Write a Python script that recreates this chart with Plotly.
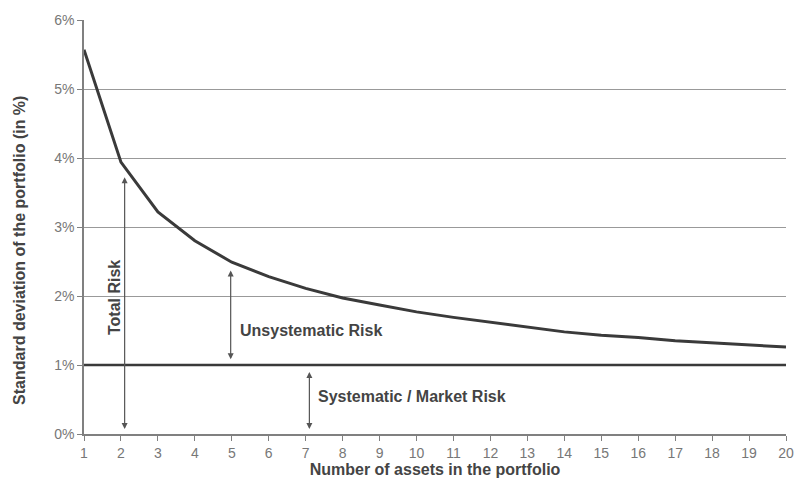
import plotly.graph_objects as go

assets = list(range(1, 21))
total_risk = [5.57, 3.94, 3.22, 2.80, 2.49, 2.28, 2.11, 1.97, 1.87, 1.77,
              1.69, 1.62, 1.55, 1.48, 1.43, 1.40, 1.35, 1.32, 1.29, 1.26]
market_risk = [1.0] * 20
y_ticks = [0, 1, 2, 3, 4, 5, 6]
y_tick_labels = ["0%", "1%", "2%", "3%", "4%", "5%", "6%"]

FONT = "Liberation Sans, Arial, sans-serif"

fig = go.Figure()
fig.add_trace(go.Scatter(x=assets, y=market_risk, mode="lines",
                         line=dict(color="#3a3a3a", width=2.5), showlegend=False))
fig.add_trace(go.Scatter(x=assets, y=total_risk, mode="lines",
                         line=dict(color="#3a3a3a", width=3), showlegend=False))

arrows = [
    (2.1, 3.72, 0.05),
    (4.97, 2.37, 1.06),
    (7.1, 0.9, 0.05),
]
for xa, ytop, ybot in arrows:
    fig.add_annotation(x=xa, y=ytop, ax=xa, ay=ybot, xref="x", yref="y",
                       axref="x", ayref="y", showarrow=True, arrowhead=2,
                       arrowside="end+start", arrowsize=1, arrowwidth=1.2,
                       arrowcolor="#555555", text="")

tfont = dict(family=FONT, size=16, color="#444444", weight="bold")
fig.add_annotation(x=1.83, y=1.98, xref="x", yref="y", text="Total Risk",
                   textangle=-90, showarrow=False, font=tfont)
fig.add_annotation(x=5.16, y=1.5, xref="x", yref="y", text="Unsystematic Risk",
                   showarrow=False, font=tfont, xanchor="left")
fig.add_annotation(x=7.27, y=0.55, xref="x", yref="y", text="Systematic / Market Risk",
                   showarrow=False, font=tfont, xanchor="left")

# y-axis title (placed as annotation to match the reference's offset position)
fig.add_annotation(x=-0.093, y=0.444, xref="paper", yref="paper",
                   xanchor="center", yanchor="middle",
                   text="Standard deviation of the portfolio (in %)", textangle=-90,
                   showarrow=False, font=dict(family=FONT, size=16, color="#444444", weight="bold"))

fig.update_layout(
    width=794, height=478,
    margin=dict(l=84, r=8, t=20, b=44),
    paper_bgcolor="white", plot_bgcolor="white",
    font=dict(family=FONT, color="#777777", size=14),
    xaxis=dict(range=[1, 20], tickmode="array", tickvals=assets,
               showgrid=False, showline=True, linecolor="#808080", linewidth=1.5,
               ticks="outside", ticklen=5, tickcolor="#808080", automargin=False,
               tickfont=dict(size=14, color="#777777"),
               title=dict(text="Number of assets in the portfolio", standoff=4,
                          font=dict(size=16, color="#444444", weight="bold"))),
    yaxis=dict(range=[0, 6], tickmode="array", tickvals=y_ticks, ticktext=y_tick_labels,
               showgrid=True, gridcolor="#999999", gridwidth=1,
               showline=True, linecolor="#808080", linewidth=1.5,
               ticks="outside", ticklen=5, tickcolor="#808080", zeroline=False,
               automargin=False,
               tickfont=dict(size=14, color="#777777")),
)

fig.write_html("out.html")
